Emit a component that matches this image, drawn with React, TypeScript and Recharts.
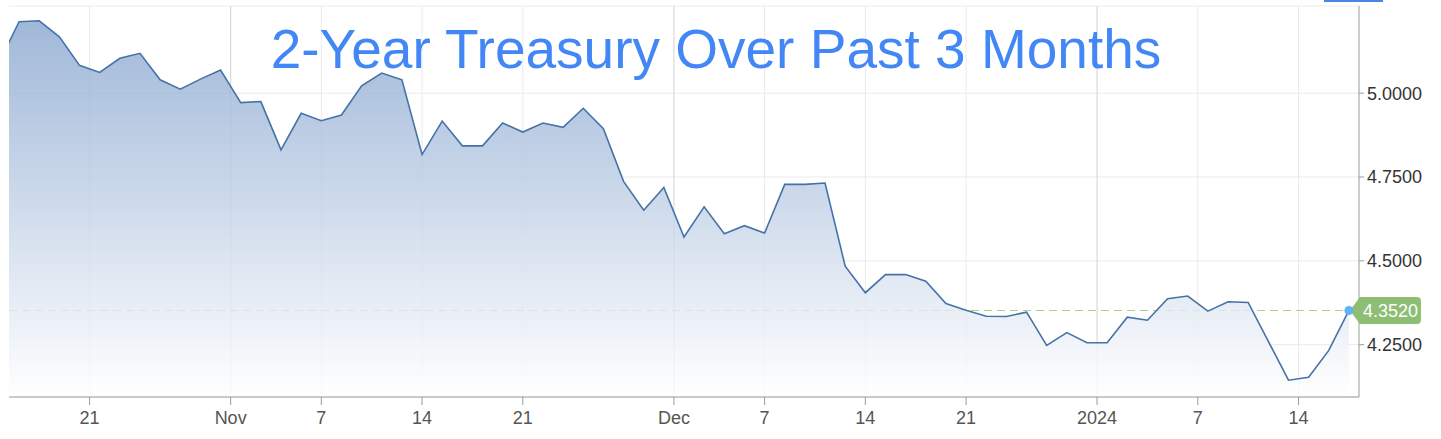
import React from "react";
import { AreaChart, Area, XAxis, YAxis, CartesianGrid, ReferenceLine, ReferenceDot } from "recharts";

// 2-year treasury yield, one value per trading day (first value sits just left of the visible range)
const yields = [
  5.091, 5.213, 5.216, 5.168, 5.083, 5.062, 5.104, 5.119, 5.04, 5.012, 5.042, 5.069,
  4.972, 4.975, 4.831, 4.94, 4.918, 4.935, 5.022, 5.06, 5.04, 4.817, 4.917, 4.843,
  4.843, 4.911, 4.884, 4.911, 4.898, 4.955, 4.894, 4.737, 4.651, 4.719, 4.571, 4.661,
  4.581, 4.605, 4.583, 4.728, 4.728, 4.732, 4.484, 4.405, 4.459, 4.459, 4.439, 4.373,
  4.353, 4.335, 4.334, 4.347, 4.248, 4.286, 4.256, 4.256, 4.332, 4.323, 4.387, 4.395,
  4.35, 4.378, 4.376, 4.26, 4.144, 4.153, 4.233, 4.352,
];

const tickDays = [3.5, 10.5, 15, 20, 25, 32.5, 37, 42, 47, 53.5, 58.5, 63.5];
const tickLabels = ["21", "Nov", "7", "14", "21", "Dec", "7", "14", "21", "2024", "7", "14"];
const monthLabels = ["Nov", "Dec", "2024"];
const yTicks = [4.25, 4.5, 4.75, 5.0];
const lastValue = 4.352;
const title = "2-Year Treasury Over Past 3 Months";

const data = yields.map((v, i) => ({ day: i - 1, yield: v }));
const lastDay = data[data.length - 1].day;

const FONT = "'Liberation Sans', Arial, Helvetica, sans-serif";

function LastLabel(props: any) {
  const { cx, cy } = props;
  if (cx == null || cy == null) return null;
  const h = 13.5;
  const x0 = cx + 1;
  const xb = cx + 11;
  const x1 = cx + 72;
  const r = 4;
  const d = `M${x0},${cy} L${xb},${cy - h} L${x1 - r},${cy - h} Q${x1},${cy - h} ${x1},${cy - h + r} L${x1},${cy + h - r} Q${x1},${cy + h} ${x1 - r},${cy + h} L${xb},${cy + h} Z`;
  return (
    <g>
      <path d={d} fill="#8dbe74" />
      <circle cx={cx} cy={cy} r={4.5} fill="#5eb4f5" />
      <text x={(xb + x1) / 2} y={cy} dy="0.355em" textAnchor="middle" fill="#ffffff" fontSize={18} fontFamily={FONT}>
        {lastValue.toFixed(4)}
      </text>
    </g>
  );
}

export default function App() {
  return (
    <div style={{ position: "absolute", left: 0, top: 0, width: 1441, height: 439, background: "#fff" }}>
      <AreaChart width={1441} height={439} data={data} margin={{ top: 6, right: 0, left: 9, bottom: 0 }}>
        <defs>
          <linearGradient id="fillTreasury" x1="0" y1="0" x2="0" y2="1">
            <stop offset="0%" stopColor="#88a6cf" stopOpacity={0.8} />
            <stop offset="100%" stopColor="#ffffff" stopOpacity={0.8} />
          </linearGradient>
        </defs>
        <CartesianGrid vertical={false} stroke="#ebebeb" />
        {tickDays.map((t, i) => (
          <ReferenceLine
            key={"v" + i}
            x={t}
            stroke={monthLabels.includes(tickLabels[i]) ? "#d2d2d2" : "#ebebeb"}
            strokeWidth={1}
            zIndex={-50}
          />
        ))}
        <ReferenceLine
          segment={[{ x: -0.5, y: lastValue }, { x: lastDay, y: lastValue }]}
          stroke="#a9d18e"
          strokeDasharray="8 5"
          strokeWidth={1.2}
          zIndex={-50}
        />
        <XAxis
          dataKey="day"
          type="number"
          domain={[-0.5, 66.5]}
          allowDataOverflow
          ticks={tickDays}
          tickFormatter={(v: number) => tickLabels[tickDays.indexOf(v)] ?? ""}
          interval={0}
          height={42}
          stroke="#9a9a9a"
          tickSize={8}
          tickMargin={6}
          fontSize={18}
          tick={{ fill: "#555555", fontSize: 18, fontFamily: FONT }}
        />
        <YAxis
          orientation="right"
          type="number"
          domain={[4.094, 5.26]}
          allowDataOverflow
          ticks={yTicks}
          tickFormatter={(v: number) => v.toFixed(4)}
          width={82}
          stroke="#9a9a9a"
          tickSize={5}
          tickMargin={3}
          fontSize={18}
          tick={{ fill: "#333333", fontSize: 18, fontFamily: FONT, textAnchor: "start" }}
        />
        <Area
          type="linear"
          dataKey="yield"
          stroke="#4572a7"
          strokeWidth={1.6}
          fill="url(#fillTreasury)"
          fillOpacity={1}
          baseValue="dataMin"
          dot={false}
          activeDot={false}
          isAnimationActive={false}
        />
        <ReferenceDot x={lastDay} y={lastValue} r={4.5} shape={LastLabel} />
      </AreaChart>
      <svg width={1441} height={439} style={{ position: "absolute", left: 0, top: 0, pointerEvents: "none" }}>
        <text x={716} y={68} textAnchor="middle" fontSize={55} fill="#4287f5" fontFamily={FONT}>
          {title}
        </text>
      </svg>
      <div style={{ position: "absolute", left: 1324, top: 0, width: 59, height: 2, background: "#4a86e8" }} />
    </div>
  );
}
